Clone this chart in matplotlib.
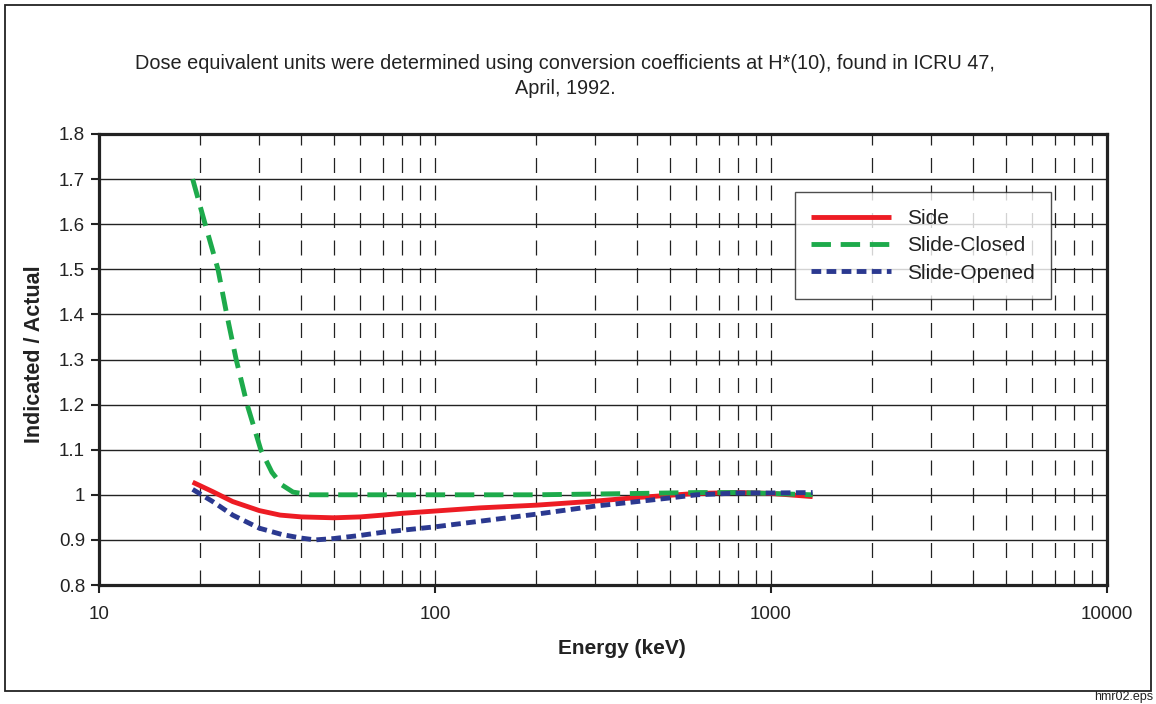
import numpy as np
import matplotlib
matplotlib.use("Agg")
import matplotlib.pyplot as plt
from matplotlib.patches import Rectangle
from matplotlib.ticker import FixedLocator, FuncFormatter

plt.rcParams['font.family'] = ['Liberation Sans', 'DejaVu Sans']

## data
side_e = [19, 21.8, 25, 30, 34.6, 40, 50, 60, 70, 80, 100, 136, 200, 300, 400, 500, 600, 800, 1000, 1330]
side_v = [1.028, 1.007, 0.985, 0.965, 0.955, 0.951, 0.949, 0.951, 0.955, 0.959, 0.964, 0.971,
          0.977, 0.986, 0.994, 0.999, 1.003, 1.005, 1.003, 0.996]

closed_e = [19, 20, 20.7, 22.6, 24, 25.6, 27.6, 30.3, 32.7, 35, 37.8, 42.5, 60, 100, 200, 400, 600, 800, 1000, 1330]
closed_v = [1.70, 1.64, 1.60, 1.50, 1.40, 1.30, 1.20, 1.10, 1.05, 1.022, 1.006, 1.0, 1.0, 1.0, 1.0,
            1.003, 1.005, 1.005, 1.003, 1.0]

opened_e = [19, 21.8, 25, 30, 35, 40, 44, 50, 60, 70, 100, 200, 300, 400, 500, 600, 800, 1000, 1330]
opened_v = [1.012, 0.985, 0.955, 0.926, 0.912, 0.904, 0.900, 0.903, 0.910, 0.917, 0.929, 0.957,
            0.975, 0.985, 0.993, 1.0, 1.004, 1.004, 1.005]

title = "Dose equivalent units were determined using conversion coefficients at H*(10), found in ICRU 47,\nApril, 1992."

fig = plt.figure(figsize=(11.56, 7.04), dpi=100)
ax = fig.add_axes([99/1156, 1-585/704, 1008/1156, 451/704])

# outer frame
fig.patches.append(Rectangle((5/1156, 1-691/704), 1146/1156, 686/704, transform=fig.transFigure,
                             fill=False, edgecolor='#222222', lw=1.3))

ax.set_xscale('log')
ax.set_xlim(10, 10000)
ax.set_ylim(0.8, 1.8)

# grid
for yv in np.arange(0.9, 1.75, 0.1):
    ax.axhline(yv, color='#222222', lw=1.0, zorder=1)
for dec in [10, 100, 1000]:
    for m in range(2, 11):
        xv = dec*m
        if xv < 10000:
            ax.axvline(xv, color='#222222', lw=0.9, dashes=(12, 10), zorder=1)

ax.plot(side_e, side_v, color='#ED1C24', lw=3.5, solid_capstyle='butt', label='Side', zorder=3)
ax.plot(closed_e, closed_v, color='#1DAA4B', lw=3.5, dashes=(4.0, 2.0), label='Slide-Closed', zorder=4)
ax.plot(opened_e, opened_v, color='#2B3990', lw=3.5, dashes=(2.0, 1.1), label='Slide-Opened', zorder=4)

ax.xaxis.set_major_locator(FixedLocator([10, 100, 1000, 10000]))
ax.xaxis.set_minor_locator(FixedLocator([]))
ax.xaxis.set_major_formatter(FuncFormatter(lambda v, p: "%d" % v))
ax.set_yticks(np.arange(0.8, 1.81, 0.1))
ax.yaxis.set_major_formatter(FuncFormatter(lambda v, p: ("%.1f" % v).rstrip('0').rstrip('.')))
ax.tick_params(axis='both', direction='out', length=6, width=1.5, labelsize=13.5, colors='#222222')
ax.tick_params(axis='x', pad=9)
ax.tick_params(axis='y', pad=4)
for s in ax.spines.values():
    s.set_linewidth(2.3)
    s.set_color('#222222')

leg = ax.legend(loc='upper left', bbox_to_anchor=(0.690, 0.871), fontsize=15, frameon=True,
                fancybox=False, edgecolor='#222222', handlelength=3.85, handletextpad=0.75,
                labelspacing=0.4, borderpad=0.8, borderaxespad=0)
leg.get_frame().set_linewidth(1.0)
for t in leg.get_texts():
    t.set_color('#222222')

fig.text(565/1156, 1-76/704, title, ha='center', va='center', fontsize=14.3, color='#222222',
         linespacing=1.45)
fig.text(622/1156, 1-649/704, "Energy (keV)", ha='center', va='center', fontsize=15,
         fontweight='bold', color='#222222')
fig.text(35/1156, 1-354/704, "Indicated / Actual", ha='center', va='center', rotation=90,
         fontsize=15.5, fontweight='bold', color='#222222')
fig.text(1153/1156, 1-697/704, "hmr02.eps", ha='right', va='center', fontsize=9, color='#222222')

fig.savefig("out.png", dpi=100)
